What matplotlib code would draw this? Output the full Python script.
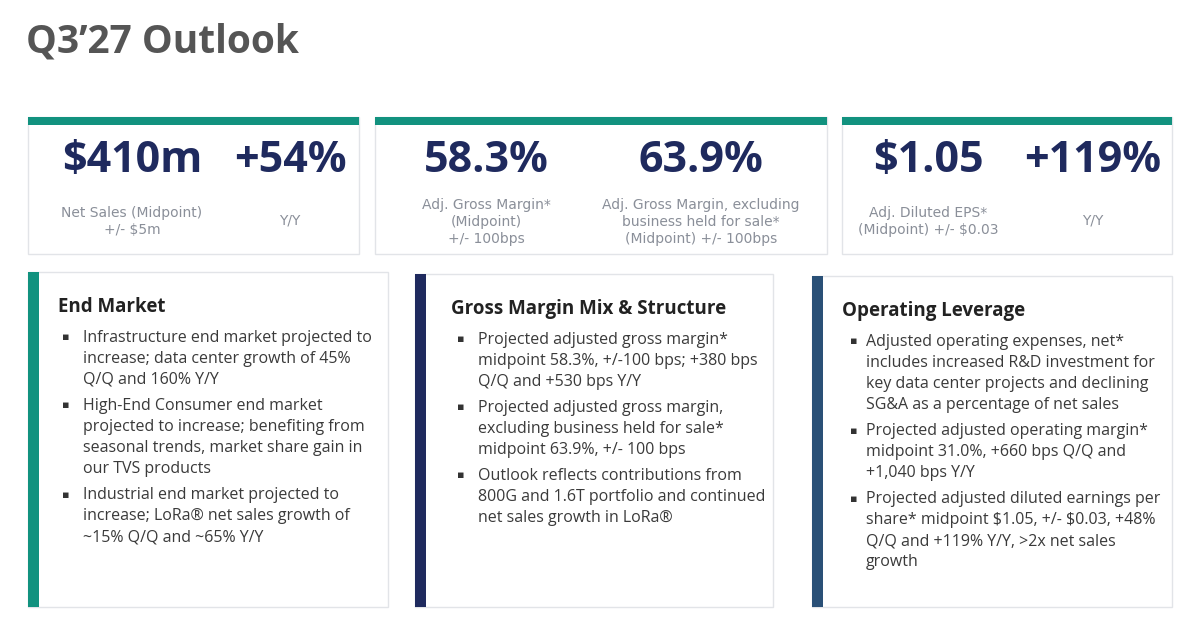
import matplotlib.pyplot as plt
from matplotlib.patches import Rectangle

plt.rcParams['font.family'] = ['Open Sans', 'DejaVu Sans']
plt.rcParams['text.parse_math'] = False

TEAL = "#12927f"
NAVY = "#1f2a5e"
STEEL = "#2a5077"
GRAY = "#8a8f99"
TEXT = "#3a3a3a"

title = "Q3\u201927 Outlook"

# top KPI cards: (x0, x1, [(value, x center, sublabel lines)])
kpi_cards = [
    (28, 359, [("$410m", 132, ["Net Sales (Midpoint)", "+/- $5m"]),
               ("+54%", 290, ["Y/Y"])]),
    (375, 827, [("58.3%", 486, ["Adj. Gross Margin*", "(Midpoint)", "+/- 100bps"]),
                ("63.9%", 701, ["Adj. Gross Margin, excluding", "business held for sale*", "(Midpoint) +/- 100bps"])]),
    (842, 1172, [("$1.05", 928, ["Adj. Diluted EPS*", "(Midpoint) +/- $0.03"]),
                 ("+119%", 1093, ["Y/Y"])]),
]

headings = ["End Market", "Gross Margin Mix & Structure", "Operating Leverage"]
bullets = [
    [["Infrastructure end market projected to", "increase; data center growth of 45%", "Q/Q and 160% Y/Y"],
     ["High-End Consumer end market", "projected to increase; benefiting from", "seasonal trends, market share gain in", "our TVS products"],
     ["Industrial end market projected to", "increase; LoRa\u00ae net sales growth of", "~15% Q/Q and ~65% Y/Y"]],
    [["Projected adjusted gross margin*", "midpoint 58.3%, +/-100 bps; +380 bps", "Q/Q and +530 bps Y/Y"],
     ["Projected adjusted gross margin,", "excluding business held for sale*", "midpoint 63.9%, +/- 100 bps"],
     ["Outlook reflects contributions from", "800G and 1.6T portfolio and continued", "net sales growth in LoRa\u00ae"]],
    [["Adjusted operating expenses, net*", "includes increased R&D investment for", "key data center projects and declining", "SG&A as a percentage of net sales"],
     ["Projected adjusted operating margin*", "midpoint 31.0%, +660 bps Q/Q and", "+1,040 bps Y/Y"],
     ["Projected adjusted diluted earnings per", "share* midpoint $1.05, +/- $0.03, +48%", "Q/Q and +119% Y/Y, >2x net sales", "growth"]],
]
box_x = [(28, 388, TEAL), (415, 773, NAVY), (812, 1172, STEEL)]
box_top = [272, 274, 276]
# (heading offset, bullet offset, text offset)
offsets = [(30, 34, 55), (36, 42, 63), (30, 38, 54)]

fig = plt.figure(figsize=(12, 6.3), dpi=100)
ax = fig.add_axes([0, 0, 1, 1])
ax.set_xlim(0, 1200)
ax.set_ylim(630, 0)
ax.axis("off")

ax.text(26, 42, title, fontsize=28, fontweight="bold", color="#555555", va="center")

for (x0, x1, items) in kpi_cards:
    ax.add_patch(Rectangle((x0, 117), x1 - x0, 137, fc="white", ec="#e2e4e8", lw=1))
    ax.add_patch(Rectangle((x0, 117), x1 - x0, 8, fc=TEAL, ec="none"))
    for val, cx, sub in items:
        ax.text(cx, 161, val, fontsize=31, fontweight="bold", color=NAVY, ha="center", va="center")
        y0 = 220 if len(sub) == 1 else 213 - (len(sub) - 2) * 8
        for i, s in enumerate(sub):
            ax.text(cx, y0 + i * 17, " ".join(s) if False else s, fontsize=10, color=GRAY,
                    ha="center", va="center", fontfamily=["DejaVu Sans"], fontstretch="expanded")

for k, (x0, x1, col) in enumerate(box_x):
    top = box_top[k]
    ho, bo, to = offsets[k]
    ax.add_patch(Rectangle((x0, top), x1 - x0, 607 - top, fc="white", ec="#e2e4e8", lw=1))
    ax.add_patch(Rectangle((x0, top), 11, 607 - top, fc=col, ec="none"))
    ax.text(x0 + ho, top + 35, headings[k], fontsize=13.5, fontweight="bold", color="#222222", va="center")
    y = top + 66
    for b in bullets[k]:
        ax.text(x0 + bo, y, "\u25aa", fontsize=8, color="#333333", va="center")
        for line in b:
            ax.text(x0 + to, y, line, fontsize=11.5, color=TEXT, va="center")
            y += 21
        y += 5

fig.savefig("out.png", dpi=100, facecolor="white")
